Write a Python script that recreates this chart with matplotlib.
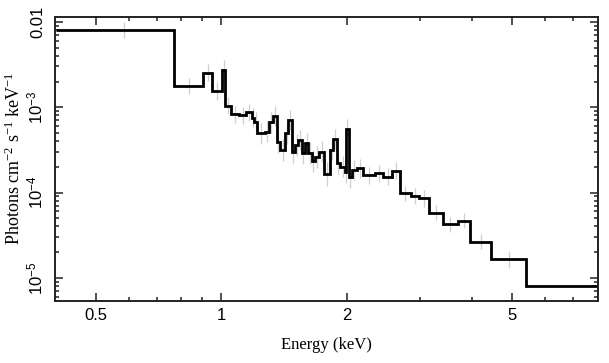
import numpy as np
import matplotlib
matplotlib.use("Agg")
import matplotlib.pyplot as plt
from matplotlib.ticker import FixedLocator, FixedFormatter, NullFormatter

# bin edges (keV) and flux level of each bin (photons cm^-2 s^-1 keV^-1)
edges = [0.40, 0.770, 0.905, 0.952, 1.004, 1.022, 1.055, 1.102, 1.149, 1.183,
         1.201, 1.220, 1.273, 1.304, 1.328, 1.358, 1.383, 1.422, 1.448, 1.476,
         1.503, 1.531, 1.560, 1.588, 1.618, 1.648, 1.679, 1.716, 1.767, 1.824,
         1.854, 1.890, 1.927, 1.982, 1.995, 2.020, 2.056, 2.114, 2.193, 2.339,
         2.449, 2.574, 2.686, 2.846, 2.988, 3.150, 3.397, 3.702, 3.963, 4.436,
         5.400, 8.0]
flux = [8.04e-3, 1.77e-3, 2.54e-3, 1.55e-3, 2.73e-3, 1.04e-3, 8.3e-4, 8.0e-4, 8.67e-4,
        7.57e-4, 6.76e-4, 4.94e-4, 5.16e-4, 6.65e-4, 7.88e-4, 3.94e-4, 3.15e-4,
        4.94e-4, 7.08e-4, 3.01e-4, 3.60e-4, 4.13e-4, 2.88e-4, 3.77e-4, 2.88e-4,
        2.36e-4, 2.61e-4, 3.01e-4, 1.65e-4, 3.15e-4, 4.24e-4, 2.20e-4, 2.01e-4,
        1.75e-4, 5.55e-4, 1.53e-4, 1.84e-4, 1.92e-4, 1.60e-4, 1.68e-4, 1.53e-4,
        1.80e-4, 9.8e-5, 9.1e-5, 8.55e-5, 5.83e-5, 4.25e-5, 4.69e-5, 2.65e-5,
        1.65e-5, 8.0e-6]
# half length of the grey error bars, in dex
err_dex = [0.09, 0.09, 0.10, 0.10, 0.12, 0.10, 0.10, 0.10, 0.10, 0.11,
           0.11, 0.12, 0.12, 0.12, 0.12, 0.13, 0.13, 0.12, 0.12, 0.13,
           0.13, 0.12, 0.13, 0.12, 0.13, 0.13, 0.13, 0.12, 0.14, 0.12,
           0.12, 0.13, 0.12, 0.13, 0.12, 0.13, 0.12, 0.11, 0.10, 0.10,
           0.10, 0.10, 0.09, 0.09, 0.10, 0.09, 0.09, 0.09, 0.09, 0.10,
           np.nan]

plt.rcParams['mathtext.default'] = 'regular'

fig = plt.figure(figsize=(6.09, 3.63), dpi=100)
ax = fig.add_axes([55 / 609, 1 - 300.7 / 363, 542.7 / 609, 284 / 363])

e = np.array(edges)
f = np.array(flux)
d = np.array(err_dex)
cen = (e[:-1] + e[1:]) / 2
lo = f - f * 10 ** (-d)
hi = f * 10 ** d - f
ax.errorbar(cen, f, yerr=[lo, hi], fmt='none', ecolor='#cfcfcf', elinewidth=0.9, capsize=0, zorder=1)
ax.stairs(f, e, baseline=None, color='black', lw=2.0, zorder=2)

ax.set_xscale('log')
ax.set_yscale('log')
ax.set_xlim(0.3986, 8.01)
ax.set_ylim(5.4e-6, 0.0115)

tfont = 'Liberation Sans'
ax.xaxis.set_major_locator(FixedLocator([0.5, 1, 2, 5]))
ax.xaxis.set_major_formatter(FixedFormatter(['0.5', '1', '2', '5']))
ax.xaxis.set_minor_locator(FixedLocator([0.6, 0.7, 0.8, 0.9, 3, 4, 6, 7]))
ax.xaxis.set_minor_formatter(NullFormatter())
ax.yaxis.set_major_locator(FixedLocator([1e-5, 1e-4, 1e-3, 1e-2]))
ax.yaxis.set_major_formatter(FixedFormatter([r'10$^{-5}$', r'10$^{-4}$', r'10$^{-3}$', '0.01']))
ax.yaxis.set_minor_formatter(NullFormatter())

ax.tick_params(which='both', direction='in', top=True, right=True, color='#222222', width=1.1)
ax.tick_params(which='major', length=5.5)
ax.tick_params(which='minor', length=3)
ax.tick_params(axis='x', pad=5, labelsize=12)
ax.tick_params(axis='y', pad=7, labelsize=12)
for lab in ax.get_xticklabels():
    lab.set_family(tfont)
for lab in ax.get_yticklabels():
    lab.set_family(tfont)
    lab.set_rotation(90)
    lab.set_va('center')
for s in ax.spines.values():
    s.set_linewidth(1.4)
    s.set_color('#222222')

ax.set_xlabel('Energy (keV)', family='Liberation Serif', fontsize=12, labelpad=10)
ax.set_ylabel(r'Photons cm$^{-2}$ s$^{-1}$ keV$^{-1}$', family='Liberation Serif', fontsize=13)
ax.yaxis.set_label_coords(-0.058, 0.5)

fig.savefig('out.png', dpi=100)
